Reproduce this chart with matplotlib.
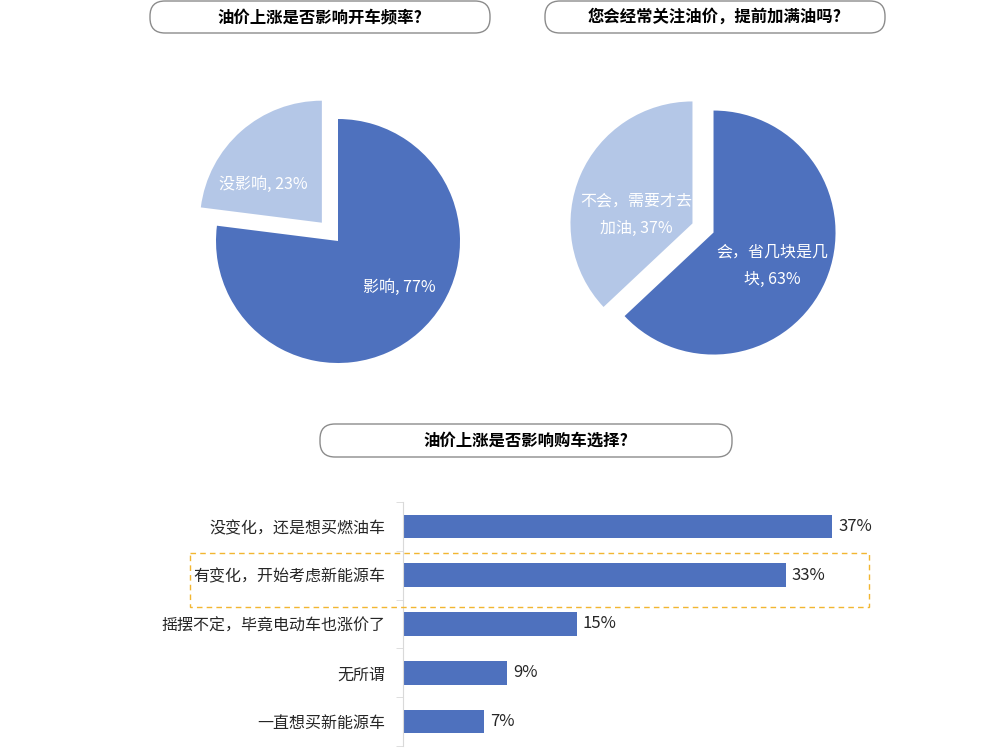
import matplotlib.pyplot as plt
from matplotlib.patches import FancyBboxPatch, Rectangle

plt.rcParams['font.family'] = ['Noto Sans CJK SC', 'DejaVu Sans']

# data
pie1_title = '油价上涨是否影响开车频率?'
pie1_names = ['影响', '没影响']
pie1_values = [77, 23]

pie2_title = '您会经常关注油价，提前加满油吗?'
pie2_names = ['会，省几块是几\n块', '不会，需要才去\n加油']
pie2_values = [63, 37]

bar_title = '油价上涨是否影响购车选择?'
bar_labels = ['没变化，还是想买燃油车', '有变化，开始考虑新能源车',
              '摇摆不定，毕竟电动车也涨价了', '无所谓', '一直想买新能源车']
bar_values = [37, 33, 15, 9, 7]

DARK = '#4E71BE'
LIGHT = '#B4C7E7'
W, H = 1000, 756

fig = plt.figure(figsize=(10, 7.56), dpi=100)


def px_axes(cx, cy, r, lim=1.4):
    # square axes centred at pixel (cx, cy) where one data unit = r pixels
    half = lim * r
    return fig.add_axes([(cx - half) / W, (H - cy - half) / H, 2 * half / W, 2 * half / H])


def draw_pie(ax, names, values, explode, label_pos):
    ax.pie(values, colors=[DARK, LIGHT], startangle=90, counterclock=False,
           explode=explode)
    for name, v, (x, y) in zip(names, values, label_pos):
        ax.text(x, y, f'{name}, {v}%', ha='center', va='center', color='white',
                fontsize=11.5, linespacing=1.75)
    ax.set_xlim(-1.4, 1.4)
    ax.set_ylim(-1.4, 1.4)
    ax.set_aspect('equal')
    ax.axis('off')


ax1 = px_axes(338, 241, 122)
draw_pie(ax1, pie1_names, pie1_values, [0, 0.2], [(0.5, -0.38), (-0.61, 0.46)])

ax2 = px_axes(703, 228, 122)
draw_pie(ax2, pie2_names, pie2_values, [0.094, 0.094], [(0.57, -0.31), (-0.55, 0.11)])

# bar chart
axb = fig.add_axes([403 / W, (H - 746) / H, 464 / W, 244 / H])
ypos = list(range(len(bar_values)))
axb.barh(ypos, bar_values, height=0.48, color=DARK)
for y, v in zip(ypos, bar_values):
    axb.text(v + 0.5, y, f'{v}%', va='center', ha='left', fontsize=12, color='#262626')
axb.set_xlim(0, 40)
axb.set_ylim(len(bar_values) - 0.5, -0.5)
axb.set_yticks(ypos)
axb.set_yticklabels(bar_labels, fontsize=11.5, color='#262626')
axb.set_yticks([i - 0.5 for i in range(len(bar_values) + 1)], minor=True)
axb.tick_params(axis='y', which='major', length=0, pad=13)
axb.tick_params(axis='y', which='minor', length=5, color='#D9D9D9')
axb.set_xticks([])
for s in ['top', 'right', 'bottom']:
    axb.spines[s].set_visible(False)
axb.spines['left'].set_color('#D9D9D9')

# overlay in pixel coordinates for title boxes and highlight
ov = fig.add_axes([0, 0, 1, 1], zorder=10)
ov.set_xlim(0, W)
ov.set_ylim(H, 0)
ov.axis('off')

for (x0, y0, x1, y1), t in [((150, 1, 490, 33), pie1_title),
                            ((545, 1, 885, 33), pie2_title),
                            ((320, 424, 732, 457), bar_title)]:
    ov.add_patch(FancyBboxPatch((x0, y0), x1 - x0, y1 - y0,
                                boxstyle='round,pad=0,rounding_size=15',
                                fc='white', ec='#8C8C8C', lw=1.0))
    ov.text((x0 + x1) / 2, (y0 + y1) / 2, t, ha='center', va='center',
            fontsize=11.8, fontweight='bold', color='black')

ov.add_patch(Rectangle((190, 553), 679, 54, fill=False, ec='#F2B631', lw=1.0,
                       ls=(0, (4, 3))))

fig.savefig('out.png', dpi=100)
